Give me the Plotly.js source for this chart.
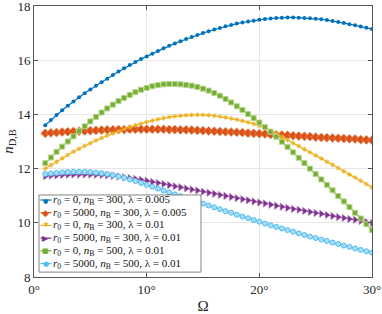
<!DOCTYPE html>
<html>
<head>
<meta charset="utf-8">
<script src="https://cdn.plot.ly/plotly-3.0.1.min.js"></script>
<style>html,body{margin:0;padding:0;background:#fff;}#chart{width:382px;height:314px;}</style>
</head>
<body>
<div id="chart"></div>
<script>
const omega = [1,1.5,2,2.5,3,3.5,4,4.5,5,5.5,6,6.5,7,7.5,8,8.5,9,9.5,10,10.5,11,11.5,12,12.5,13,13.5,14,14.5,15,15.5,16,16.5,17,17.5,18,18.5,19,19.5,20,20.5,21,21.5,22,22.5,23,23.5,24,24.5,25,25.5,26,26.5,27,27.5,28,28.5,29,29.5,30];

const blueVals = [13.60,13.79,13.98,14.15,14.32,14.48,14.63,14.78,14.92,15.06,15.19,15.32,15.45,15.58,15.70,15.82,15.93,16.04,16.14,16.24,16.34,16.44,16.53,16.62,16.70,16.78,16.86,16.93,17.00,17.07,17.13,17.19,17.25,17.30,17.35,17.39,17.43,17.46,17.49,17.52,17.54,17.56,17.57,17.58,17.58,17.57,17.56,17.55,17.53,17.51,17.48,17.45,17.41,17.37,17.33,17.29,17.24,17.20,17.15];

const orangeVals = [13.30,13.32,13.33,13.35,13.36,13.37,13.38,13.39,13.40,13.41,13.42,13.43,13.43,13.44,13.44,13.45,13.45,13.45,13.45,13.45,13.45,13.45,13.44,13.44,13.43,13.43,13.42,13.41,13.40,13.39,13.38,13.37,13.36,13.35,13.34,13.33,13.31,13.30,13.29,13.28,13.26,13.25,13.24,13.23,13.21,13.20,13.19,13.18,13.16,13.15,13.14,13.13,13.12,13.11,13.10,13.09,13.07,13.06,13.05];

const yellowVals = [12.00,12.13,12.25,12.38,12.50,12.62,12.73,12.84,12.94,13.04,13.13,13.22,13.30,13.38,13.46,13.53,13.60,13.66,13.72,13.77,13.82,13.86,13.90,13.93,13.95,13.97,13.98,13.98,13.98,13.97,13.95,13.92,13.89,13.85,13.81,13.76,13.71,13.65,13.58,13.50,13.40,13.29,13.17,13.06,12.94,12.83,12.71,12.60,12.48,12.37,12.25,12.14,12.02,11.90,11.78,11.67,11.55,11.43,11.31];

const purpleVals = [11.72,11.74,11.75,11.76,11.77,11.78,11.78,11.78,11.78,11.77,11.76,11.75,11.73,11.71,11.68,11.65,11.62,11.59,11.55,11.51,11.47,11.43,11.39,11.35,11.31,11.27,11.23,11.19,11.15,11.11,11.07,11.03,10.99,10.95,10.91,10.87,10.83,10.79,10.75,10.71,10.67,10.63,10.59,10.55,10.51,10.48,10.44,10.40,10.36,10.33,10.29,10.25,10.21,10.18,10.14,10.11,10.07,10.03,9.99];

const greenVals = [12.20,12.41,12.62,12.81,13.00,13.19,13.38,13.56,13.74,13.91,14.07,14.22,14.36,14.49,14.61,14.72,14.82,14.91,14.98,15.04,15.08,15.11,15.12,15.12,15.11,15.09,15.06,15.01,14.95,14.88,14.79,14.69,14.57,14.44,14.30,14.16,14.01,13.86,13.70,13.53,13.36,13.18,12.99,12.80,12.60,12.40,12.20,12.00,11.80,11.60,11.40,11.20,10.99,10.79,10.58,10.37,10.16,9.95,9.73];

const cyanVals = [11.80,11.82,11.84,11.86,11.87,11.88,11.88,11.88,11.87,11.85,11.83,11.80,11.76,11.71,11.66,11.60,11.54,11.47,11.40,11.33,11.26,11.19,11.12,11.05,10.98,10.91,10.84,10.77,10.71,10.64,10.57,10.50,10.43,10.37,10.30,10.23,10.17,10.10,10.04,9.97,9.91,9.85,9.79,9.73,9.67,9.61,9.55,9.49,9.44,9.38,9.33,9.27,9.22,9.16,9.11,9.05,9.00,8.95,8.90];

const seriesNames = [
  '<i>r</i><sub>0</sub> = 0, <i>n</i><sub>B</sub> = 300, λ = 0.005',
  '<i>r</i><sub>0</sub> = 5000, <i>n</i><sub>B</sub> = 300, λ = 0.005',
  '<i>r</i><sub>0</sub> = 0, <i>n</i><sub>B</sub> = 300, λ = 0.01',
  '<i>r</i><sub>0</sub> = 5000, <i>n</i><sub>B</sub> = 300, λ = 0.01',
  '<i>r</i><sub>0</sub> = 0, <i>n</i><sub>B</sub> = 500, λ = 0.01',
  '<i>r</i><sub>0</sub> = 5000, <i>n</i><sub>B</sub> = 500, λ = 0.01'
];
const seriesVals = [blueVals, orangeVals, yellowVals, purpleVals, greenVals, cyanVals];

const colors = ['#0072BD','#D95319','#EDB120','#7E2F8E','#77AC30','#4DBEEE'];
const markers = [
  {symbol:'circle', size:4, color:'#0072BD'},
  {symbol:'diamond', size:7, color:'#D95319', line:{color:'#ef9a6e', width:0.6}},
  {symbol:'asterisk-open', size:4, color:'#EDB120', line:{color:'#EDB120', width:1}},
  {symbol:'triangle-right', size:6.5, color:'#7E2F8E', line:{color:'#b587bf', width:0.6}},
  {symbol:'square', size:5, color:'#77AC30', line:{color:'#b4d78d', width:1}},
  {symbol:'circle', size:5, color:'#a8dcf5', line:{color:'#4DBEEE', width:1}}
];
// legend glyphs (text symbols for the hand-built legend box)
const legendGlyphs = ['●','◆','✱','▶','■','●'];
const legendGlyphSizes = [6,9,7,8,7,7];

const traces = seriesVals.map((v, i) => ({
  type:'scatter', mode:'lines+markers', x: omega, y: v, name: seriesNames[i],
  line:{color: colors[i], width:1.2},
  marker: markers[i], showlegend:false
}));

// legend layout (paper coords)
const legRowY = [0.2841, 0.2373, 0.1904, 0.1435, 0.0967, 0.0498];
const legX0 = 0.0192, legX1 = 0.0518, legXm = 0.0355, legXt = 0.0530;

const shapes = [
  {type:'rect', xref:'paper', yref:'paper', x0:0.0148, x1:0.494, y0:0.018, y1:0.3026,
   fillcolor:'#fff', line:{color:'#666', width:0.8}, layer:'above'}
];
const annotations = [];
seriesNames.forEach((nm, i) => {
  shapes.push({type:'line', xref:'paper', yref:'paper', x0:legX0, x1:legX1, y0:legRowY[i], y1:legRowY[i],
    line:{color:colors[i], width:1.2}, layer:'above'});
  annotations.push({xref:'paper', yref:'paper', x:legXm, y:legRowY[i], xanchor:'center', yanchor:'middle',
    text:legendGlyphs[i], showarrow:false,
    font:{family:'"DejaVu Sans", sans-serif', size:legendGlyphSizes[i], color:colors[i]}});
  annotations.push({xref:'paper', yref:'paper', x:legXt, y:legRowY[i], xanchor:'left', yanchor:'middle',
    text:nm, showarrow:false, borderpad:0,
    font:{family:'"Liberation Serif", serif', size:11, color:'#111'}});
});

const tickFont = {family:'"Liberation Serif", "DejaVu Serif", serif', size:13, color:'#262626'};

const layout = {
  width:382, height:314,
  margin:{l:34, r:10, t:6, b:37},
  paper_bgcolor:'#fff', plot_bgcolor:'#fff',
  showlegend:false,
  shapes: shapes,
  annotations: annotations,
  xaxis:{
    range:[0,30], tickvals:[0,10,20,30], ticktext:['0°','10°','20°','30°'],
    showgrid:true, gridcolor:'#e6e6e6', gridwidth:1,
    zeroline:false, showline:true, linecolor:'#555', linewidth:1, mirror:'ticks',
    ticks:'inside', ticklen:4, tickcolor:'#555', tickfont:tickFont, ticklabeloverflow:'allow',
    title:{text:'Ω', font:{family:'"Liberation Serif", serif', size:15, color:'#262626'}, standoff:11}
  },
  yaxis:{
    range:[8,18], tickvals:[8,10,12,14,16,18],
    showgrid:true, gridcolor:'#e6e6e6', gridwidth:1,
    zeroline:false, showline:true, linecolor:'#555', linewidth:1, mirror:'ticks',
    ticks:'inside', ticklen:4, tickcolor:'#555', tickfont:tickFont, ticklabeloverflow:'allow',
    title:{text:'<i>n</i><sub>D,B</sub>', font:{family:'"Liberation Serif", serif', size:15, color:'#262626'}, standoff:2}
  }
};

Plotly.newPlot('chart', traces, layout, {staticPlot:true, displayModeBar:false});
</script>
</body>
</html>
